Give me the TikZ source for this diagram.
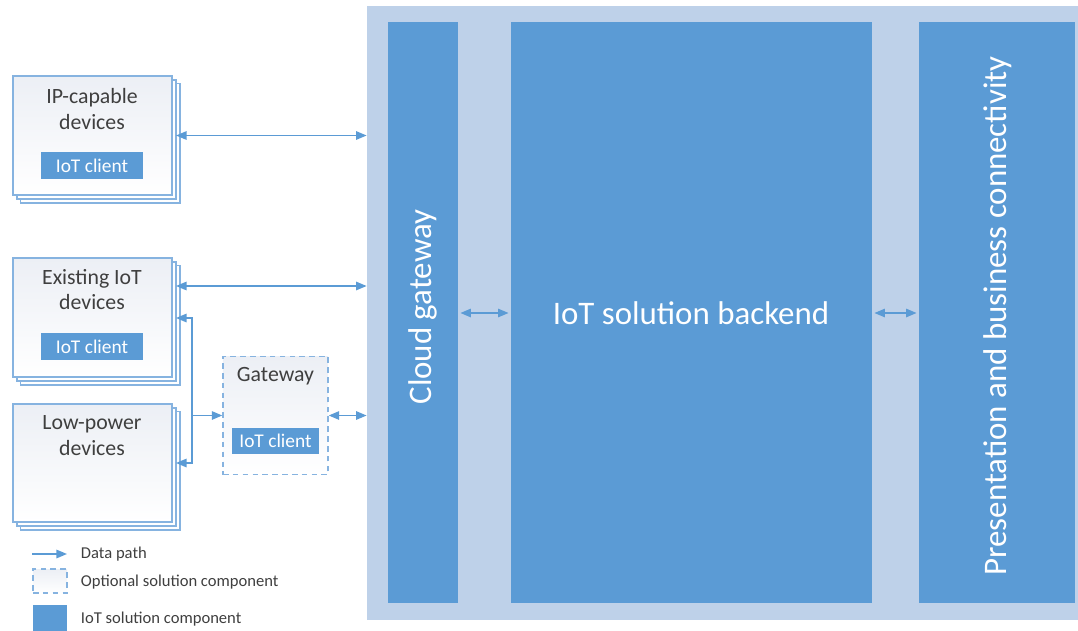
\documentclass[tikz,border=0pt]{standalone}
\usepackage{fontspec}
\setmainfont{Carlito}
\usetikzlibrary{arrows.meta,positioning,shadows}

\definecolor{iotblue}{HTML}{5B9BD5}
\definecolor{iotpale}{HTML}{BED1E9}
\definecolor{iotline}{HTML}{86B3E0}
\definecolor{iotshade}{HTML}{ECEFF5}
\definecolor{iottext}{HTML}{3F3F3F}

\tikzset{
  >={Triangle[length=7.5pt,width=6pt]},
  device/.style={draw=iotline, line width=0.9pt, top color=iotshade, bottom color=white,
    minimum width=3.975cm, minimum height=2.975cm, inner sep=0pt,
    copy shadow={shadow xshift=5.6pt, shadow yshift=-5.6pt, draw=iotline, fill=white, line width=0.9pt},
    copy shadow={shadow xshift=2.8pt, shadow yshift=-2.8pt, draw=iotline, fill=white, line width=0.9pt}},
  optional/.style={draw=iotline, line width=0.9pt, dash pattern=on 4pt off 3pt,
    top color=iotshade, bottom color=white, inner sep=0pt},
  client/.style={fill=iotblue, text=white, inner sep=0pt,
    minimum width=2.55cm, minimum height=0.675cm, font=\fontsize{13.8}{16}\selectfont},
  title/.style={align=center, text=iottext, font=\fontsize{15.5}{18.4}\selectfont},
  column/.style={fill=iotblue, inner sep=0pt, minimum height=14.525cm},
  bigtext/.style={text=white, font=\fontsize{23.4}{28}\selectfont},
  keytext/.style={anchor=west, text=iottext, font=\fontsize{11.8}{14}\selectfont},
  link/.style={draw=iotblue, line width=1.1pt},
}

\begin{document}
\begin{tikzpicture}[x=0.025cm, y=-0.025cm]
  \useasboundingbox (0,0) rectangle (1078,631);

  % solution side
  \node[fill=iotpale, inner sep=0pt, minimum width=17.775cm, minimum height=15.35cm] (bg) at (722.5,313) {};
  \node[column, minimum width=1.75cm] (cloud) at (423,312.5) {};
  \node[column, minimum width=9.025cm] (backend) at (691.5,312.5) {};
  \node[column, minimum width=3.9cm] (present) at (997,312.5) {};
  \node[bigtext, rotate=90] (cloud-label) at (423,307) {Cloud gateway};
  \node[bigtext] (backend-label) at (691,313) {IoT solution backend};
  \node[bigtext, rotate=90] (present-label) at (998,316) {Presentation and business connectivity};

  % devices
  \node[device] (ip) at (92.5,135.5) {};
  \node[title] (ip-title) at (92,109) {IP-capable\\devices};
  \node[client] (ip-client) at (92,165.5) {IoT client};

  \node[device] (exist) at (92.5,317.5) {};
  \node[title] (exist-title) at (92,289.5) {Existing IoT\\devices};
  \node[client] (exist-client) at (92,346.5) {IoT client};

  \node[device, minimum height=2.95cm] (low) at (92.5,463) {};
  \node[title] (low-title) at (92,436) {Low-power\\devices};

  \node[optional, minimum width=2.625cm, minimum height=2.95cm] (gw) at (275.5,415.5) {};
  \node[title] (gw-title) at (275.5,376) {Gateway};
  \node[client, minimum width=2.175cm, minimum height=0.65cm] (gw-client) at (275.5,441) {IoT client};

  % data paths
  \coordinate (ip-out) at (176,135.5);
  \coordinate (exist-out) at (176,286);
  \coordinate (exist-in) at (176,318);
  \coordinate (low-in) at (176,463);
  \coordinate (fork) at (192,415.5);

  \draw[link, <->] (ip-out) -- (ip-out -| bg.west);
  \draw[link, <->] (exist-out) -- (exist-out -| bg.west);
  \draw[link, ->] (fork) |- (exist-in);
  \draw[link, ->] (fork) |- (low-in);
  \draw[link, ->] (fork) -- (gw.west);
  \draw[link, <->] (gw.east) -- (gw.east -| bg.west);
  \draw[link, <->, shorten <=1.5pt, shorten >=1.5pt] (cloud.east |- backend-label) -- (backend.west |- backend-label);
  \draw[link, <->, shorten <=1.5pt, shorten >=1.5pt] (backend.east |- backend-label) -- (present.west |- backend-label);

  % legend
  \coordinate (key-a) at (32,554);
  \coordinate (key-b) at (67,554);
  \draw[link, ->] (key-a) -- (key-b);
  \node[keytext] (key-path) at (76,554) {Data path};
  \node[optional, minimum width=0.85cm, minimum height=0.6cm] (key-opt) at (50,581) {};
  \node[keytext] (key-opt-text) at (76,582) {Optional solution component};
  \node[fill=iotblue, inner sep=0pt, minimum width=0.85cm, minimum height=0.65cm] (key-iot) at (50,618) {};
  \node[keytext] (key-iot-text) at (76,619) {IoT solution component};
\end{tikzpicture}
\end{document}
